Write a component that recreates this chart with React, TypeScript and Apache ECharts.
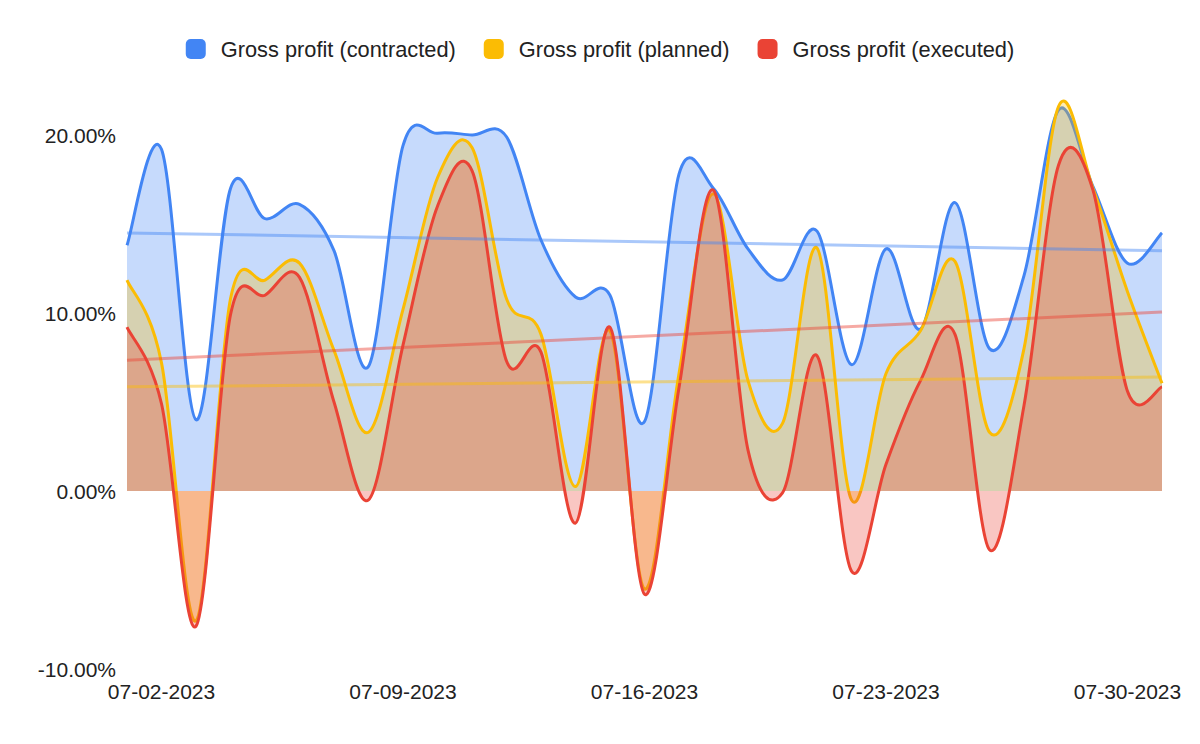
import React, { useEffect, useRef } from "react";
import * as echarts from "echarts";

const dates = [
  "07-01-2023", "07-02-2023", "07-03-2023", "07-04-2023", "07-05-2023", "07-06-2023", "07-07-2023",
  "07-08-2023", "07-09-2023", "07-10-2023", "07-11-2023", "07-12-2023", "07-13-2023", "07-14-2023",
  "07-15-2023", "07-16-2023", "07-17-2023", "07-18-2023", "07-19-2023", "07-20-2023", "07-21-2023",
  "07-22-2023", "07-23-2023", "07-24-2023", "07-25-2023", "07-26-2023", "07-27-2023", "07-28-2023",
  "07-29-2023", "07-30-2023", "07-31-2023",
];

const contracted = [13.8, 19.2, 4.0, 17.0, 15.3, 16.1, 13.5, 7.0, 19.4, 20.1, 20.0, 19.9, 14.1, 10.9, 11.0, 3.9,
  17.8, 17.0, 13.6, 11.85, 14.6, 7.1, 13.6, 9.1, 16.2, 8.0, 12.1, 21.4, 17.1, 12.8, 14.5];
const planned = [11.85, 7.2, -7.3, 10.8, 11.85, 12.8, 7.9, 3.3, 10.2, 17.6, 19.3, 10.8, 8.8, 0.25, 9.0, -5.5,
  6.6, 16.7, 6.2, 3.8, 13.65, -0.5, 6.6, 9.0, 12.9, 3.3, 8.0, 21.6, 17.0, 11.2, 6.05];
const executed = [9.2, 4.9, -7.6, 9.9, 11.0, 12.0, 5.0, -0.5, 8.2, 16.0, 18.0, 7.3, 7.8, -1.8, 9.2, -5.8,
  5.8, 16.9, 2.3, -0.1, 7.6, -4.5, 1.5, 6.2, 8.8, -3.3, 4.8, 18.3, 16.9, 5.6, 5.85];

// trendline endpoints [first day, last day]
const contractedTrend = [14.5, 13.5];
const plannedTrend = [5.85, 6.4];
const executedTrend = [7.35, 10.05];

const names = ["Gross profit (contracted)", "Gross profit (planned)", "Gross profit (executed)"];
const colors = ["#4285F4", "#FBBC04", "#EA4335"];
const fills = ["rgba(66,133,244,0.3)", "rgba(251,188,4,0.3)", "rgba(234,67,53,0.3)"];

function trendData(ends: number[]) {
  const arr: (number | null)[] = dates.map(() => null);
  arr[0] = ends[0];
  arr[dates.length - 1] = ends[1];
  return arr;
}

function makeRender(vals: number[], color: string, fill: string) {
  return (params: any, api: any) => {
    if (params.dataIndex !== 0) return null;
    const pts: number[][] = vals.map((v, i) => api.coord([i, v]));
    const base = api.coord([0, 0])[1];
    const f = (n: number) => n.toFixed(2);
    let d = `M${f(pts[0][0])},${f(pts[0][1])}`;
    for (let i = 0; i < pts.length - 1; i++) {
      const p0 = pts[i - 1] || pts[i];
      const p1 = pts[i];
      const p2 = pts[i + 1];
      const p3 = pts[i + 2] || pts[i + 1];
      const c1x = p1[0] + (p2[0] - p0[0]) / 6;
      const c1y = p1[1] + (p2[1] - p0[1]) / 6;
      const c2x = p2[0] - (p3[0] - p1[0]) / 6;
      const c2y = p2[1] - (p3[1] - p1[1]) / 6;
      d += ` C${f(c1x)},${f(c1y)} ${f(c2x)},${f(c2y)} ${f(p2[0])},${f(p2[1])}`;
    }
    const last = pts[pts.length - 1];
    const area = `${d} L${f(last[0])},${f(base)} L${f(pts[0][0])},${f(base)} Z`;
    return {
      type: "group",
      children: [
        { type: "path", shape: { pathData: area }, style: { fill, stroke: null } },
        { type: "path", shape: { pathData: d }, style: { fill: null, stroke: color, lineWidth: 3, lineJoin: "round" } },
      ],
    };
  };
}

export default function App() {
  const ref = useRef<HTMLDivElement>(null);
  useEffect(() => {
    if (!ref.current) return;
    const chart = echarts.init(ref.current, undefined, { renderer: "svg" });
    const font = "'Liberation Sans', Arial, sans-serif";
    const mainSeries = [contracted, planned, executed].map((d, i) => ({
      name: names[i],
      type: "custom",
      data: d.map((v, k) => [k, v]),
      encode: { x: 0, y: 1 },
      renderItem: makeRender(d, colors[i], fills[i]),
      itemStyle: { color: colors[i] },
      silent: true,
      z: 2 + i,
    }));
    const trendSeries = [contractedTrend, plannedTrend, executedTrend].map((t, i) => ({
      name: names[i] + " trend",
      type: "line",
      data: trendData(t),
      connectNulls: true,
      showSymbol: false,
      symbol: "none",
      silent: true,
      lineStyle: { color: colors[i], width: 3, opacity: 0.45 },
      z: 6,
    }));
    chart.setOption({
      animation: false,
      color: colors,
      legend: {
        data: names,
        top: 33,
        left: "center",
        icon: "roundRect",
        itemWidth: 20,
        itemHeight: 20,
        itemGap: 28,
        textStyle: { fontSize: 21.8, color: "#222", fontFamily: font, padding: [0, 0, 0, 10] },
      },
      grid: { left: 127, right: 38, top: 46, bottom: 75 },
      xAxis: {
        type: "category",
        boundaryGap: false,
        data: dates,
        axisLine: { show: false },
        axisTick: { show: false },
        splitLine: { show: false },
        axisLabel: {
          interval: (i: number) => i % 7 === 1,
          fontSize: 21,
          color: "#222",
          fontFamily: font,
          margin: 12,
        },
      },
      yAxis: {
        type: "value",
        min: -10,
        max: 25,
        interval: 10,
        splitLine: { show: false },
        axisLine: { show: false },
        axisTick: { show: false },
        axisLabel: {
          showMaxLabel: false,
          formatter: (v: number) => (v > 20 ? "" : v.toFixed(2) + "%"),
          fontSize: 21,
          color: "#222",
          fontFamily: font,
          margin: 11,
        },
      },
      series: [...mainSeries, ...trendSeries],
    });
    return () => chart.dispose();
  }, []);
  return (
    <div
      ref={ref}
      style={{ position: "fixed", left: 0, top: 0, width: 1200, height: 744, background: "#fff" }}
    />
  );
}
